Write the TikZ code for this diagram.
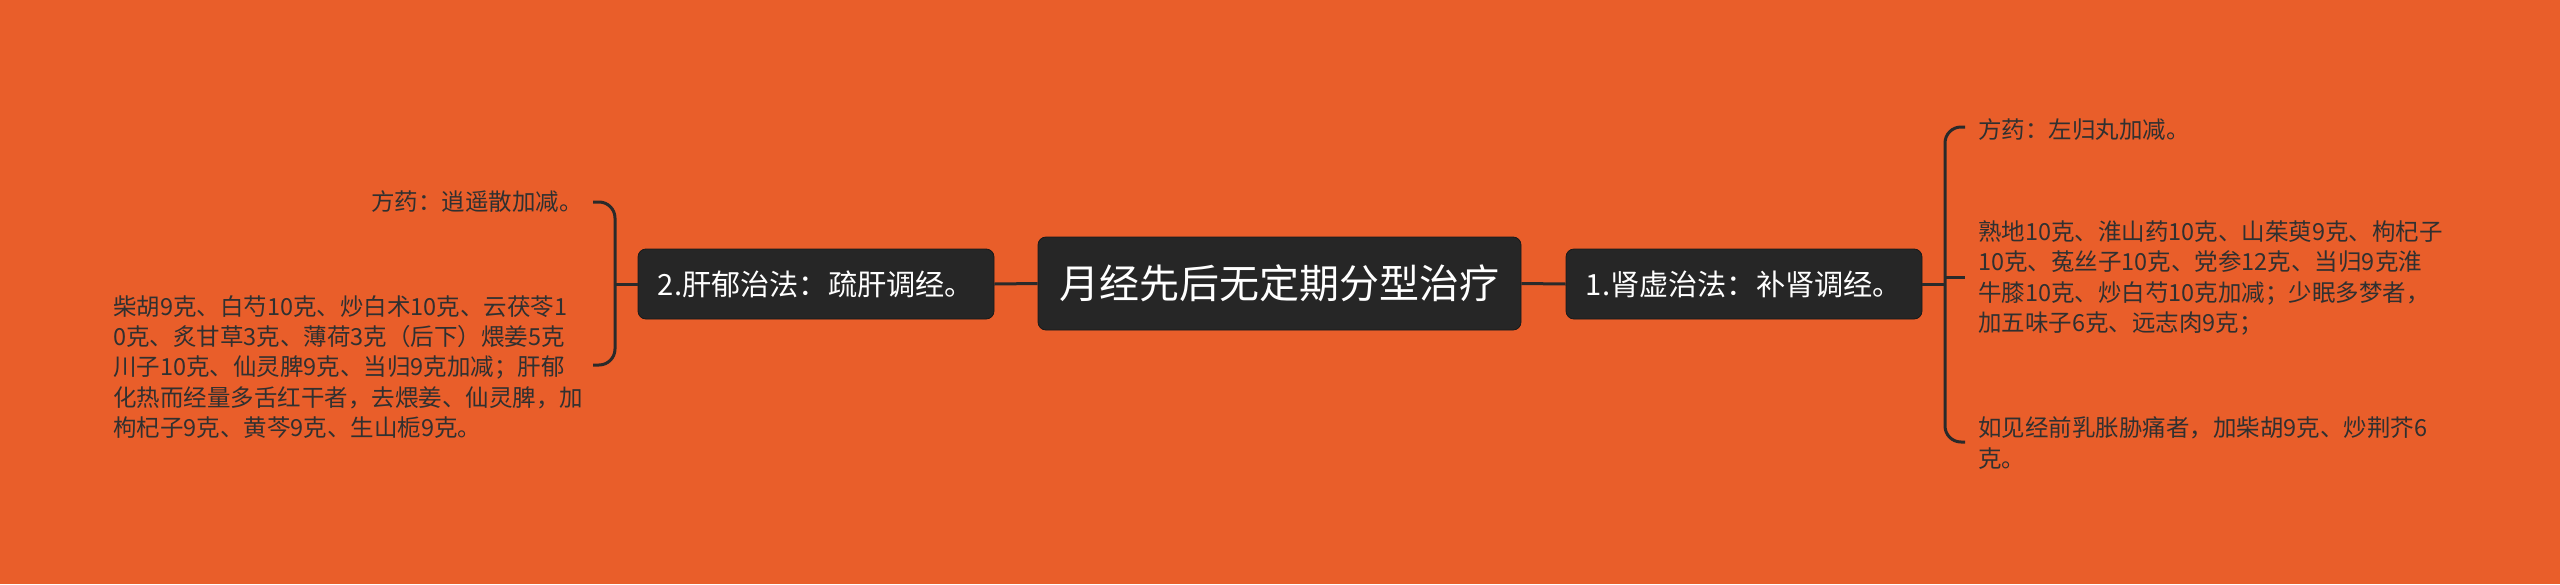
\documentclass[tikz,border=0pt]{standalone}
\usepackage{fontspec}
\newfontfamily\cjk{Noto Sans CJK SC}
\definecolor{bgc}{HTML}{E95E2A}
\definecolor{nodec}{HTML}{262626}
\definecolor{linec}{HTML}{2A2A2A}
\definecolor{txtc}{HTML}{303030}
\tikzset{
  topicbox/.style={fill=nodec, draw=black!90, line width=0.8pt, rounded corners=8pt, text=white, inner sep=0pt},
  maintopic/.style={topicbox, minimum width=483pt, minimum height=93pt, font=\cjk\fontsize{40}{48}\selectfont},
  subtopic/.style={topicbox, minimum width=356pt, minimum height=70pt, font=\cjk\fontsize{29.2}{34}\selectfont},
  leaftext/.style={text=txtc, inner sep=0pt, align=left, font=\cjk\fontsize{23.5}{30.2}\selectfont},
  conn/.style={draw=linec, line width=3pt},
  brace/.style={draw=linec, line width=3pt, rounded corners=16pt, line cap=butt}
}
\begin{document}
\begin{tikzpicture}[x=1pt,y=-1pt]
\fill[bgc] (0,0) rectangle (2560,584);
\useasboundingbox (0,0) rectangle (2560,584);

% topics
\node[maintopic] (root) at (1279.5,283.5) {月经先后无定期分型治疗};
\node[subtopic] (left) at (816,284) {2.肝郁治法：疏肝调经。};
\node[subtopic] (right) at (1744,284) {1.肾虚治法：补肾调经。};

% leaf texts, left
\node[leaftext, anchor=east] (lfang) at (583,202) {方药：逍遥散加减。};
\node[leaftext, anchor=west] (lyao) at (113,367) {柴胡9克、白芍10克、炒白术10克、云茯苓1\\0克、炙甘草3克、薄荷3克（后下）煨姜5克\\川子10克、仙灵脾9克、当归9克加减；肝郁\\化热而经量多舌红干者，去煨姜、仙灵脾，加\\枸杞子9克、黄芩9克、生山栀9克。};

% leaf texts, right
\node[leaftext, anchor=west] (rfang) at (1978,130) {方药：左归丸加减。};
\node[leaftext, anchor=west] (ryao) at (1978,278) {熟地10克、淮山药10克、山茱萸9克、枸杞子\\10克、菟丝子10克、党参12克、当归9克淮\\牛膝10克、炒白芍10克加减；少眠多梦者，\\加五味子6克、远志肉9克；};
\node[leaftext, anchor=west] (rjia) at (1978,443) {如见经前乳胀胁痛者，加柴胡9克、炒荆芥6\\克。};

% connectors root - topics
\draw[conn] (root.west) -- (left.east);
\draw[conn] (root.east) -- (right.west);

% left brace
\coordinate (lbm) at (615,284);
\coordinate (lbt) at (593,202);
\coordinate (lbb) at (593,365);
\draw[conn] (left.west) -- (lbm);
\draw[brace] (lbt) -- (615,202) -- (615,365) -- (lbb);

% right brace
\coordinate (rbm) at (1945,284);
\coordinate (rbt) at (1965,127);
\coordinate (rbb) at (1965,442);
\coordinate (rbmid) at (1965,277);
\draw[conn] (right.east) -- (rbm);
\draw[brace] (rbt) -- (1945,127) -- (1945,442) -- (rbb);
\draw[conn] (1945,277) -- (rbmid);
\end{tikzpicture}
\end{document}
